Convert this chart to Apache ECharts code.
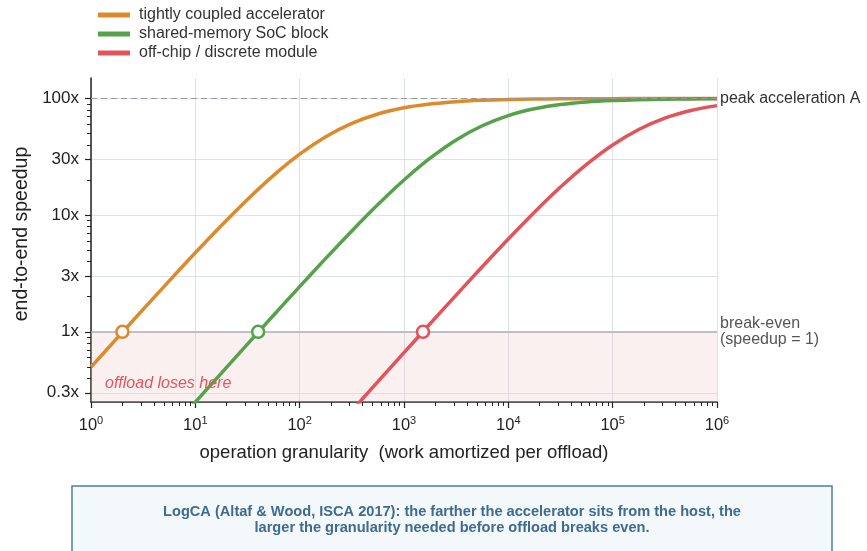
<!DOCTYPE html>
<html><head><meta charset="utf-8">
<script src="https://cdn.jsdelivr.net/npm/echarts@6/dist/echarts.min.js"></script>
<style>html,body{margin:0;padding:0;background:#fff}#c{width:867px;height:551px}</style>
</head><body><div id="c"></div>
<script>
// granularity samples (work per offload), every quarter decade
const granularity = [1, 1.778, 3.162, 5.623, 10, 17.78, 31.62, 56.23, 100, 177.8, 316.2, 562.3, 1000, 1778, 3162, 5623, 10000, 17783, 31623, 56234, 100000, 177828, 316228, 562341, 1000000];
// end-to-end speedup
const tightlyCoupled = [0.4975, 0.881, 1.556, 2.735, 4.762, 8.165, 13.65, 21.95, 33.33, 47.06, 61.26, 73.76, 83.33, 89.89, 94.05, 96.57, 98.04, 98.89, 99.37, 99.65, 99.80, 99.89, 99.94, 99.96, 99.98];
const sharedMemory = [null, null, null, 0.1404, 0.2494, 0.4425, 0.7843, 1.386, 2.439, 4.256, 7.326, 12.32, 20.0, 30.77, 44.15, 58.43, 71.43, 81.64, 88.77, 93.36, 96.15, 97.80, 98.75, 99.29, 99.60];
const offChip = [null, null, null, null, null, null, null, null, null, 0.1184, 0.2104, 0.3735, 0.6623, 1.171, 2.064, 3.613, 6.25, 10.60, 17.41, 27.27, 40.0, 54.24, 67.83, 78.94, 86.96];
// break-even granularity (speedup = 1)
const breakEvenG = [2.0, 40, 1520];
const seriesNames = ['tightly coupled accelerator', 'shared-memory SoC block', 'off-chip / discrete module'];
const seriesColors = ['#dd8a2d', '#55a24a', '#e2535a'];
const yTickValues = [0.3, 1, 3, 10, 30, 100];
const yTickLabels = ['0.3x', '1x', '3x', '10x', '30x', '100x'];
const xDecades = [0, 1, 2, 3, 4, 5, 6];
const peakA = 100;

const L = Math.log10;
const yMin = L(0.25), yMax = L(150);
function toPts(arr) { return granularity.map((g, i) => arr[i] == null ? null : [L(g), L(arr[i])]); }
const allData = [tightlyCoupled, sharedMemory, offChip];

const xMinor = [];
for (let n = 0; n < 6; n++) for (let k = 2; k <= 9; k++) xMinor.push(L(k * Math.pow(10, n)));
const yMinor = [];
[0.1, 1, 10].forEach(b => { for (let k = 1; k <= 9; k++) { const v = k * b; if (v >= 0.25 && v <= 150 && yTickValues.indexOf(+v.toFixed(3)) < 0) yMinor.push(L(v)); } });

const font = '"Liberation Sans", Arial, sans-serif';
const chart = echarts.init(document.getElementById('c'));
const grid = { left: 91, right: 150, top: 78, bottom: 149 };

const series = [];
series.push({
  type: 'line', name: '_bg', data: [[0, 0]], symbol: 'none', lineStyle: { opacity: 0 }, silent: true, z: 1,
  markArea: { silent: true, itemStyle: { color: 'rgba(236,200,200,0.28)' }, data: [[{ yAxis: yMin }, { yAxis: 0 }]] },
  markLine: {
    silent: true, symbol: 'none',
    data: [
      { yAxis: 0, lineStyle: { color: '#aeb0b4', width: 1.5, type: 'solid' },
        label: { show: true, position: 'end', formatter: 'break-even\n(speedup = 1)', color: '#555', fontSize: 16, fontFamily: font, lineHeight: 16, align: 'left', distance: 3, padding: [8, 0, 0, 0] } },
      { yAxis: L(peakA), lineStyle: { color: '#999', width: 1.2, type: [6, 4] },
        label: { show: true, position: 'end', formatter: 'peak acceleration A', color: '#333', fontSize: 16, fontFamily: font, align: 'left', distance: 3, padding: [7, 0, 0, 0] } }
    ]
  }
});
allData.forEach((arr, i) => {
  series.push({
    type: 'line', name: seriesNames[i], data: toPts(arr), symbol: 'none', smooth: 0.35,
    lineStyle: { color: seriesColors[i], width: 3.5 }, itemStyle: { color: seriesColors[i] }, z: 3, clip: true
  });
});
series.push({
  type: 'scatter', name: '_be', z: 5, symbolSize: 12,
  data: breakEvenG.map((g, i) => ({ value: [L(g), 0], itemStyle: { color: '#f4f9fc', borderColor: seriesColors[i], borderWidth: 2.5, opacity: 1 } }))
});

chart.setOption({
  animation: false,
  textStyle: { fontFamily: font },
  legend: {
    data: seriesNames, orient: 'vertical', left: 93, top: 2, itemGap: 3, itemWidth: 32, itemHeight: 5,
    icon: 'rect', textStyle: { fontSize: 16, color: '#333', fontFamily: font, padding: [0, 0, 0, 4] }
  },
  grid: grid,
  xAxis: [
    { type: 'value', min: 0, max: 6, name: 'operation granularity  (work amortized per offload)', nameLocation: 'middle', nameGap: 41,
      nameTextStyle: { fontSize: 18.5, color: '#222' },
      axisLine: { onZero: false, lineStyle: { color: '#222', width: 1.5 } },
      axisTick: { length: 6, lineStyle: { color: '#222', width: 1.2 }, customValues: xDecades },
      axisLabel: { customValues: xDecades, margin: 13, color: '#222', formatter: v => '{b|10}{s|' + v + '}',
        rich: { b: { fontSize: 16.5, fontFamily: font, color: '#222', lineHeight: 18 }, s: { fontSize: 11, fontFamily: font, color: '#222', padding: [0, 0, 9, 0] } } },
      splitLine: { show: true, lineStyle: { color: '#dde2ea', width: 1 } } },
    { type: 'value', min: 0, max: 6, position: 'bottom', axisLine: { show: false, onZero: false },
      axisTick: { length: 4, lineStyle: { color: '#222', width: 1 }, customValues: xMinor },
      axisLabel: { show: false }, splitLine: { show: false } }
  ],
  yAxis: [
    { type: 'value', min: yMin, max: yMax,
      axisLine: { show: true, onZero: false, lineStyle: { color: '#222', width: 1.5 } },
      axisTick: { show: true, length: 6, lineStyle: { color: '#222', width: 1.2 }, customValues: yTickValues.map(L) },
      axisLabel: { customValues: yTickValues.map(L), fontSize: 17, color: '#222', margin: 12,
        formatter: v => { let best = 0; yTickValues.forEach((t, i) => { if (Math.abs(L(t) - v) < Math.abs(L(yTickValues[best]) - v)) best = i; }); return yTickLabels[best]; } },
      splitLine: { show: true, lineStyle: { color: '#dde2ea', width: 1 } } },
    { type: 'value', min: yMin, max: yMax, position: 'left', axisLine: { show: false, onZero: false },
      axisTick: { show: true, length: 4, lineStyle: { color: '#222', width: 1 }, customValues: yMinor },
      axisLabel: { show: false }, splitLine: { show: false } }
  ],
  series: series,
  graphic: [
    { type: 'text', x: 22, y: 234, rotation: Math.PI / 2, z: 10, style: { text: 'end-to-end speedup', fontSize: 19.5, fontFamily: font, fill: '#222', align: 'center', verticalAlign: 'middle' } },
    { type: 'text', left: 105, top: 376, z: 10, style: { text: 'offload loses here', fontSize: 16, fontStyle: 'italic', fontFamily: font, fill: '#e4555e' } },
    { type: 'rect', shape: { x: 72, y: 486, width: 760, height: 80 }, style: { fill: '#f3f8fb', stroke: '#4f7fa3', lineWidth: 1.5 }, z: 10 },
    { type: 'text', x: 452, y: 519.5, z: 11, style: { text: 'LogCA (Altaf & Wood, ISCA 2017): the farther the accelerator sits from the host, the\nlarger the granularity needed before offload breaks even.',
      fontSize: 14.6, fontWeight: 'bold', fontFamily: font, fill: '#3e6b8f', align: 'center', verticalAlign: 'middle', lineHeight: 16 } }
  ]
});
</script></body></html>
